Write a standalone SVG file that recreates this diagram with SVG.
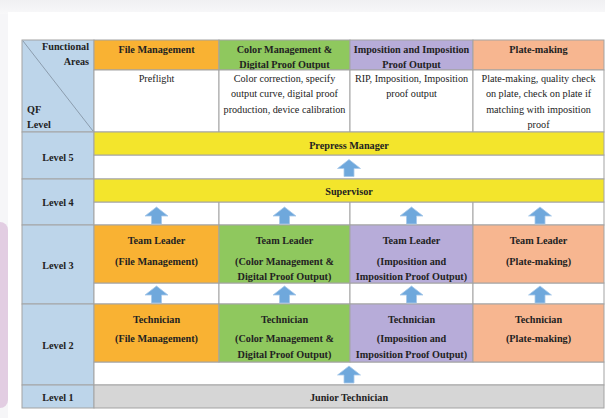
<svg xmlns="http://www.w3.org/2000/svg" width="605" height="418" viewBox="0 0 605 418">
<style>
  .t { font-family: "Liberation Serif", "Times New Roman", serif; font-size: 10.2px; fill: #222; }
  .b { font-weight: bold; }
  .c { text-anchor: middle; }
  .cell { stroke: #a3a3a3; stroke-width: 1; }
  .lvl { fill: #bdd5ea; }
  .fm { fill: #f9b233; }
  .cm { fill: #8fc85e; }
  .im { fill: #b7acd9; }
  .pm { fill: #f7b690; }
  .yl { fill: #f3e52c; }
  .gr { fill: #d6d6d6; }
  .wh { fill: #ffffff; }
  .arrow { fill: #6fa8dc; stroke: #a8c9ea; stroke-width: 0.8; }
</style>
<defs>
  <linearGradient id="topShade" x1="0" y1="0" x2="0" y2="1">
    <stop offset="0" stop-color="#f0f0f2"/>
    <stop offset="1" stop-color="#f8f8f9"/>
  </linearGradient>
  <path id="up" d="M0,-8.5 L11.5,0.5 L5,0.5 L5,8.5 L-5,8.5 L-5,0.5 L-11.5,0.5 Z"/>
</defs>

<!-- page background and card -->
<rect x="0" y="0" width="605" height="418" fill="#f6f6f8"/>
<rect x="0" y="0" width="605" height="14" fill="url(#topShade)"/>
<rect x="-10" y="222" width="18" height="186" rx="8" fill="#e2cde2"/>
<rect x="8" y="12" width="600" height="410" fill="#ffffff"/>

<!-- header -->
<g id="corner">
  <rect class="cell lvl" x="22" y="40" width="72" height="92"/>
  <line x1="23" y1="41" x2="93" y2="131" stroke="#7f8e9e" stroke-width="0.8"/>
  <text class="t b" x="89" y="50" text-anchor="end">Functional</text>
  <text class="t b" x="89" y="65" text-anchor="end">Areas</text>
  <text class="t b" x="27" y="113">QF</text>
  <text class="t b" x="27" y="128">Level</text>
</g>
<g id="head-file">
  <rect class="cell fm" x="94" y="40" width="125" height="30"/>
  <text class="t b c" x="156.5" y="53">File Management</text>
  <rect class="cell wh" x="94" y="70" width="125" height="62"/>
  <text class="t c" x="156.5" y="81.5">Preflight</text>
</g>
<g id="head-color">
  <rect class="cell cm" x="219" y="40" width="131" height="30"/>
  <text class="t b c" x="284.5" y="53">Color Management &amp;</text>
  <text class="t b c" x="284.5" y="67.5">Digital Proof Output</text>
  <rect class="cell wh" x="219" y="70" width="131" height="62"/>
  <text class="t c" x="284.5" y="81.5">Color correction, specify</text>
  <text class="t c" x="284.5" y="97">output curve, digital proof</text>
  <text class="t c" x="284.5" y="112.5">production, device calibration</text>
</g>
<g id="head-imposition">
  <rect class="cell im" x="350" y="40" width="123" height="30"/>
  <text class="t b c" x="411.5" y="53">Imposition and Imposition</text>
  <text class="t b c" x="411.5" y="67.5">Proof Output</text>
  <rect class="cell wh" x="350" y="70" width="123" height="62"/>
  <text class="t c" x="411.5" y="81.5">RIP, Imposition, Imposition</text>
  <text class="t c" x="411.5" y="97">proof output</text>
</g>
<g id="head-plate">
  <rect class="cell pm" x="473" y="40" width="131" height="30"/>
  <text class="t b c" x="538.5" y="53">Plate-making</text>
  <rect class="cell wh" x="473" y="70" width="131" height="62"/>
  <text class="t c" x="538.5" y="81.5">Plate-making, quality check</text>
  <text class="t c" x="538.5" y="97">on plate, check on plate if</text>
  <text class="t c" x="538.5" y="112.5">matching with imposition</text>
  <text class="t c" x="538.5" y="128">proof</text>
</g>

<!-- level labels -->
<g id="level5-label"><rect class="cell lvl" x="22" y="132" width="72" height="47"/><text class="t b c" x="58" y="160.5">Level 5</text></g>
<g id="level4-label"><rect class="cell lvl" x="22" y="179" width="72" height="46"/><text class="t b c" x="58" y="205.5">Level 4</text></g>
<g id="level3-label"><rect class="cell lvl" x="22" y="225" width="72" height="79"/><text class="t b c" x="58" y="268.5">Level 3</text></g>
<g id="level2-label"><rect class="cell lvl" x="22" y="304" width="72" height="81"/><text class="t b c" x="58" y="348.5">Level 2</text></g>
<g id="level1-label"><rect class="cell lvl" x="22" y="385" width="72" height="23"/><text class="t b c" x="58" y="400.5">Level 1</text></g>

<!-- white spacer rows -->
<g id="spacers">
  <rect class="cell wh" x="94" y="155" width="510" height="24"/>
  <rect class="cell wh" x="94" y="202" width="125" height="23"/>
  <rect class="cell wh" x="219" y="202" width="131" height="23"/>
  <rect class="cell wh" x="350" y="202" width="123" height="23"/>
  <rect class="cell wh" x="473" y="202" width="131" height="23"/>
  <rect class="cell wh" x="94" y="283" width="125" height="21"/>
  <rect class="cell wh" x="219" y="283" width="131" height="21"/>
  <rect class="cell wh" x="350" y="283" width="123" height="21"/>
  <rect class="cell wh" x="473" y="283" width="131" height="21"/>
  <rect class="cell wh" x="94" y="362" width="510" height="23"/>
</g>

<!-- level 5 / 4 -->
<g id="prepress-manager">
  <rect class="cell yl" x="94" y="132" width="510" height="23"/>
  <text class="t b c" x="349" y="148.5">Prepress Manager</text>
</g>
<g id="supervisor">
  <rect class="cell yl" x="94" y="179" width="510" height="23"/>
  <text class="t b c" x="349" y="194.5">Supervisor</text>
</g>

<!-- level 3 -->
<g id="tl-file">
  <rect class="cell fm" x="94" y="225" width="125" height="58"/>
  <text class="t b c" x="156.5" y="243.5">Team Leader</text>
  <text class="t b c" x="156.5" y="264.5">(File Management)</text>
</g>
<g id="tl-color">
  <rect class="cell cm" x="219" y="225" width="131" height="58"/>
  <text class="t b c" x="284.5" y="243.5">Team Leader</text>
  <text class="t b c" x="284.5" y="264.5">(Color Management &amp;</text>
  <text class="t b c" x="284.5" y="280">Digital Proof Output)</text>
</g>
<g id="tl-imposition">
  <rect class="cell im" x="350" y="225" width="123" height="58"/>
  <text class="t b c" x="411.5" y="243.5">Team Leader</text>
  <text class="t b c" x="411.5" y="264.5">(Imposition and</text>
  <text class="t b c" x="411.5" y="280">Imposition Proof Output)</text>
</g>
<g id="tl-plate">
  <rect class="cell pm" x="473" y="225" width="131" height="58"/>
  <text class="t b c" x="538.5" y="243.5">Team Leader</text>
  <text class="t b c" x="538.5" y="264.5">(Plate-making)</text>
</g>

<!-- level 2 -->
<g id="tech-file">
  <rect class="cell fm" x="94" y="304" width="125" height="58"/>
  <text class="t b c" x="156.5" y="322.5">Technician</text>
  <text class="t b c" x="156.5" y="342">(File Management)</text>
</g>
<g id="tech-color">
  <rect class="cell cm" x="219" y="304" width="131" height="58"/>
  <text class="t b c" x="284.5" y="322.5">Technician</text>
  <text class="t b c" x="284.5" y="342">(Color Management &amp;</text>
  <text class="t b c" x="284.5" y="358">Digital Proof Output)</text>
</g>
<g id="tech-imposition">
  <rect class="cell im" x="350" y="304" width="123" height="58"/>
  <text class="t b c" x="411.5" y="322.5">Technician</text>
  <text class="t b c" x="411.5" y="342">(Imposition and</text>
  <text class="t b c" x="411.5" y="358">Imposition Proof Output)</text>
</g>
<g id="tech-plate">
  <rect class="cell pm" x="473" y="304" width="131" height="58"/>
  <text class="t b c" x="538.5" y="322.5">Technician</text>
  <text class="t b c" x="538.5" y="342">(Plate-making)</text>
</g>

<!-- level 1 -->
<g id="junior-technician">
  <rect class="cell gr" x="94" y="385" width="510" height="23"/>
  <text class="t b c" x="349" y="400.5">Junior Technician</text>
</g>

<!-- connectors -->
<g id="connectors">
  <use href="#up" class="arrow" x="349" y="168"/>
  <use href="#up" class="arrow" x="156.5" y="215.5"/>
  <use href="#up" class="arrow" x="284.5" y="215.5"/>
  <use href="#up" class="arrow" x="411.5" y="215.5"/>
  <use href="#up" class="arrow" x="540" y="215.5"/>
  <use href="#up" class="arrow" x="156.5" y="294.5"/>
  <use href="#up" class="arrow" x="284.5" y="294.5"/>
  <use href="#up" class="arrow" x="411.5" y="294.5"/>
  <use href="#up" class="arrow" x="540" y="294.5"/>
  <use href="#up" class="arrow" x="349" y="374.5"/>
</g>
</svg>
